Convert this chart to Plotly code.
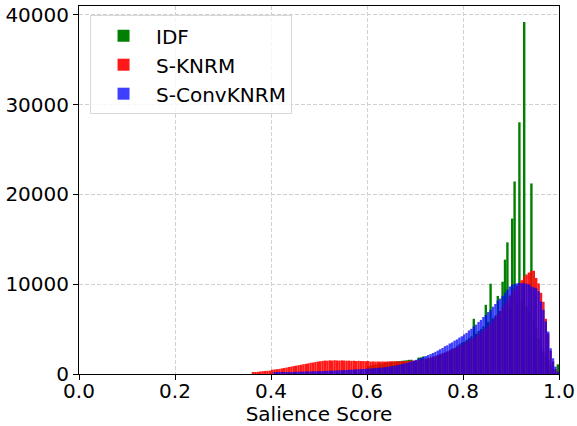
import plotly.graph_objects as go

# ---- data (histogram bin counts, bins of width 0.005 starting at 0.35) ----
BIN_WIDTH = 0.005
FIRST_BIN_LEFT = 0.35

idf = [0] * 50 + [
    900, 950, 1000, 1050, 1100, 1150, 1200, 1250, 1300, 1330,
    1360, 1390, 1420, 1440, 1470, 1500, 1530, 1580, 1590, 1400,
    1450, 1830, 1850, 1960, 1500, 1600, 1700, 1800, 1900, 2000,
    2100, 2200, 2300, 2400, 2600, 2800, 2900, 3100, 3300, 3500,
    3600, 3800, 4000, 4200, 6150, 4500, 4800, 5000, 5300, 7710,
    5800, 10060, 6200, 6500, 8700, 7000, 10280, 12740, 14670, 7500,
    17320, 21450, 8000, 28040, 8000, 39220, 7500, 7000, 21230, 6000,
    5000, 4000, 3000, 2500, 2000, 1500, 1000, 600, 300, 1080,
]

s_knrm = [
    0, 0, 150, 200, 240, 280, 320, 340, 350, 370,
    470, 510, 540, 570, 620, 670, 720, 780, 830, 880,
    930, 980, 1030, 1090, 1130, 1180, 1250, 1280, 1330, 1380,
    1420, 1460, 1500, 1480, 1520, 1500, 1530, 1510, 1490, 1520,
    1500, 1480, 1490, 1460, 1480, 1450, 1470, 1440, 1450, 1430,
    1450, 1380, 1400, 1380, 1390, 1380, 1400, 1380, 1400, 1410,
    1420, 1400, 1420, 1400, 1440, 1420, 1450, 1460, 1480, 1500,
    1520, 1560, 1600, 1650, 1720, 1790, 1860, 1940, 2030, 2120,
    2220, 2320, 2420, 2530, 2640, 2760, 2880, 3000, 3130, 3270,
    3420, 3570, 3730, 3900, 4080, 4270, 4470, 4680, 4900, 5130,
    5380, 5650, 5950, 6280, 6640, 7020, 7420, 7850, 8300, 8750,
    9150, 9500, 9850, 10150, 10450, 10870, 11100, 11300, 11500, 11500,
    10700, 10100, 9050, 8040, 6150, 4500, 2600, 1400, 550, 150,
]

s_convknrm = [0] * 11 + [
    150, 160, 180, 190, 200, 210, 220, 230, 240,
    250, 260, 270, 270, 280, 290, 300, 300, 310, 320,
    330, 340, 350, 360, 370, 380, 390, 400, 410, 420,
    440, 450, 470, 480, 500, 510, 530, 540, 560, 580,
    600, 620, 640, 660, 680, 700, 730, 760, 800, 840,
    890, 930, 980, 1040, 1100, 1160, 1230, 1300, 1380, 1480,
    1580, 1690, 1800, 1900, 2000, 2110, 2220, 2340, 2470, 2610,
    2760, 2900, 3100, 3200, 3400, 3520, 3720, 3850, 4060, 4200,
    4420, 4580, 4850, 5030, 5300, 5500, 5800, 6030, 6350, 6570,
    6900, 7150, 7500, 7800, 8190, 8400, 8700, 9050, 9400, 9750,
    9950, 10050, 10100, 10150, 10100, 10100, 10050, 10000, 9750, 9650,
    9550, 9200, 8080, 7150, 5850, 4730, 2870, 1750, 820, 250,
]

series_names = ["IDF", "S-KNRM", "S-ConvKNRM"]
series_values = [idf, s_knrm, s_convknrm]
series_colors = ["#008000", "#ff0000", "#0000ff"]
series_opacity = [1.0, 0.9, 0.75]

x_ticks = [0.0, 0.2, 0.4, 0.6, 0.8, 1.0]
y_ticks = [0, 10000, 20000, 30000, 40000]

bin_centers = [round(FIRST_BIN_LEFT + BIN_WIDTH * (i + 0.5), 5) for i in range(len(idf))]

fig = go.Figure()
for k, (name, vals, col, op) in enumerate(zip(series_names, series_values, series_colors, series_opacity)):
    fig.add_trace(go.Bar(
        x=bin_centers, y=vals, width=BIN_WIDTH, name=name,
        marker=dict(color=col, line=dict(width=0)), opacity=op,
        legendgroup=f"g{k}",
    ))

font = "DejaVu Sans, Arial, sans-serif"
grid_col = "#d0d0d0"
fig.update_layout(
    width=577, height=426,
    margin=dict(l=79, r=18, t=6, b=52),
    barmode="overlay",
    plot_bgcolor="white", paper_bgcolor="white",
    font=dict(family=font, size=20, color="black"),
    showlegend=True,
    legend=dict(
        x=0.023, y=0.975, xanchor="left", yanchor="top",
        bgcolor="rgba(255,255,255,0.8)", bordercolor="#d8d8d8", borderwidth=1,
        font=dict(size=20), tracegroupgap=5, traceorder="normal",
        itemwidth=55,
    ),
    xaxis=dict(
        range=[0, 1], tickvals=x_ticks, ticktext=[f"{v:.1f}" for v in x_ticks],
        showline=True, linecolor="black", linewidth=1, mirror=True,
        ticks="outside", ticklen=5, tickcolor="black",
        tickfont=dict(size=20), ticklabelstandoff=-6,
        showgrid=True, gridcolor=grid_col, griddash="4px,2px", gridwidth=1,
        zeroline=False, automargin=False,
        title=dict(text="Salience Score", font=dict(size=20), standoff=5),
    ),
    yaxis=dict(
        range=[0, 41000], tickvals=y_ticks, ticktext=[str(v) for v in y_ticks],
        showline=True, linecolor="black", linewidth=1, mirror=True,
        ticks="outside", ticklen=5, tickcolor="black",
        tickfont=dict(size=20),
        showgrid=True, gridcolor=grid_col, griddash="4px,2px", gridwidth=1,
        zeroline=False, automargin=False,
    ),
)

fig.write_html(
    "out.html",
    config={"displayModeBar": False},
    post_script="document.body.style.margin='0';document.body.style.overflow='hidden';",
)
